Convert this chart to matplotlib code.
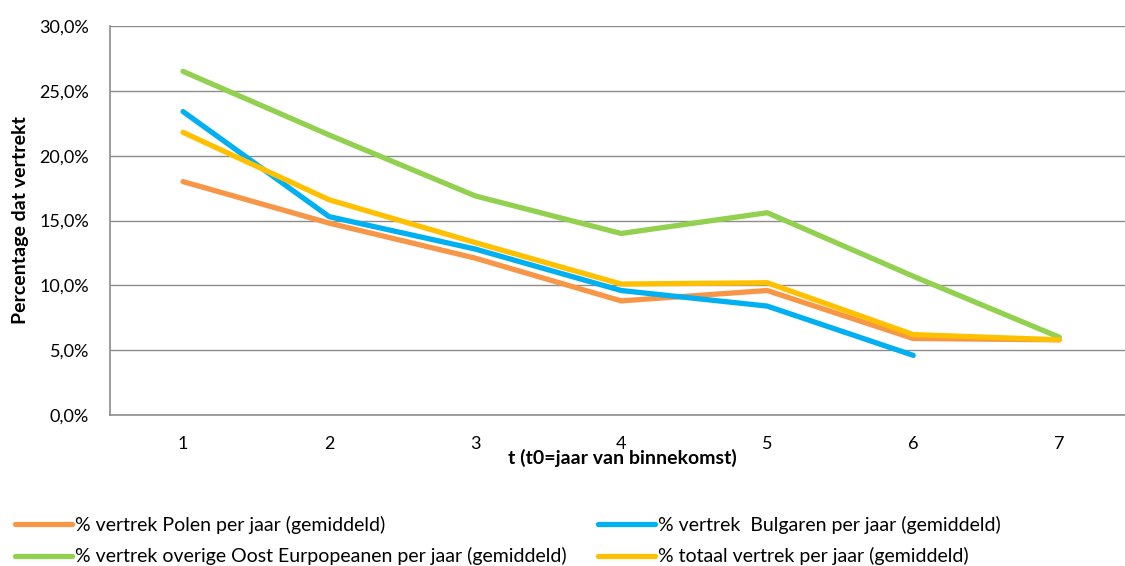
import matplotlib.pyplot as plt
from matplotlib.ticker import FuncFormatter

plt.rcParams['font.family'] = ['Lato', 'DejaVu Sans']

jaren = [1, 2, 3, 4, 5, 6, 7]
polen = [18.0, 14.8, 12.1, 8.8, 9.6, 5.9, 5.8]
bulgaren = [23.4, 15.3, 12.8, 9.6, 8.4, 4.6]
overig = [26.5, 21.6, 16.9, 14.0, 15.6, 10.7, 6.0]
totaal = [21.8, 16.6, 13.3, 10.1, 10.2, 6.2, 5.8]

labels = ['% vertrek Polen per jaar (gemiddeld)',
          '% vertrek  Bulgaren per jaar (gemiddeld)',
          '% vertrek overige Oost Eurpopeanen per jaar (gemiddeld)',
          '% totaal vertrek per jaar (gemiddeld)']
kleuren = ['#F79646', '#00B0F0', '#92D050', '#FFC000']

fig = plt.figure(figsize=(11.25, 5.66), dpi=100)
ax = fig.add_axes([110 / 1125, 1 - 415 / 566, 1 - 110 / 1125, (415 - 26) / 566])

lw = 3.8
l1, = ax.plot(jaren, polen, color=kleuren[0], lw=lw, solid_capstyle='round', label=labels[0])
l2, = ax.plot(jaren[:len(bulgaren)], bulgaren, color=kleuren[1], lw=lw, solid_capstyle='round', label=labels[1])
l3, = ax.plot(jaren, overig, color=kleuren[2], lw=lw, solid_capstyle='round', label=labels[2])
l4, = ax.plot(jaren, totaal, color=kleuren[3], lw=lw, solid_capstyle='round', label=labels[3])

ax.set_xlim(0.5, 7.45)
ax.set_ylim(0, 30)
ax.set_yticks(range(0, 31, 5))
ax.set_xticks(jaren)
ax.yaxis.set_major_formatter(FuncFormatter(lambda v, p: ('%.1f%%' % v).replace('.', ',')))
ax.tick_params(length=0, labelsize=13, colors='black')
ax.tick_params(axis='x', pad=15)
ax.tick_params(axis='y', pad=15)
ax.grid(axis='y', color='#8c8c8c', lw=1)
ax.set_axisbelow(True)
for s in ['top', 'right']:
    ax.spines[s].set_visible(False)
for s in ['left', 'bottom']:
    ax.spines[s].set_color('#8c8c8c')
    ax.spines[s].set_linewidth(1.2)

ax.set_ylabel('Percentage dat vertrekt', fontsize=14, fontweight='bold')
ax.yaxis.set_label_coords(-0.08, 0.5)
ax.set_xlabel('t (t0=jaar van binnekomst)', fontsize=14, fontweight='bold')
ax.xaxis.set_label_coords((622 - 110) / 1015, -0.088)

legopts = dict(loc='center left', frameon=False, fontsize=14, handlelength=2.95,
               handletextpad=0.15, labelspacing=0.7, borderaxespad=0, borderpad=0)
fig.legend([l1, l3], [labels[0], labels[2]], bbox_to_anchor=(15 / 1125, 1 - 540.5 / 566), **legopts)
fig.legend([l2, l4], [labels[1], labels[3]], bbox_to_anchor=(598 / 1125, 1 - 540.5 / 566), **legopts)

fig.savefig('out.png', dpi=100)
